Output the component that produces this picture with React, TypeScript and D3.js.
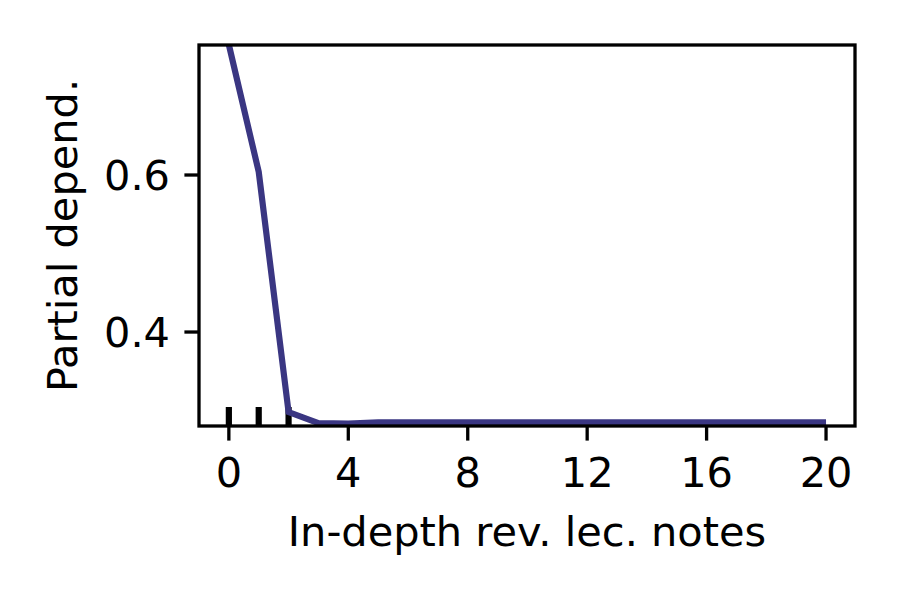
import React from "react";
import * as d3 from "d3";

// partial dependence values
const xValues = [0, 1, 2, 3, 4, 5, 6, 7, 8, 9, 10, 11, 12, 13, 14, 15, 16, 17, 18, 19, 20];
const pdValues = [
  0.766, 0.604, 0.298, 0.284, 0.2835, 0.285, 0.285, 0.285, 0.285, 0.285, 0.285,
  0.285, 0.285, 0.285, 0.285, 0.285, 0.285, 0.285, 0.285, 0.285, 0.285,
];
// deciles of the feature (rug marks)
const deciles = [0, 1, 2];
const xTicks = [0, 4, 8, 12, 16, 20];
const yTicks = [0.4, 0.6];

const width = 900,
  height = 600;
const margin = { top: 45, right: 45, bottom: 174, left: 199 };
const lineColor = "#3a3682";
const fontSize = 41.5;
const font = "DejaVu Sans, sans-serif";
const tickLen = 14.6;
const axisW = 3.3;

export default function App() {
  const innerW = width - margin.left - margin.right;
  const innerH = height - margin.top - margin.bottom;

  const xScale = d3.scaleLinear().domain([-1.0, 20.97]).range([0, innerW]);
  const yScale = d3.scaleLinear().domain([0.2803, 0.7656]).range([innerH, 0]);

  const line = d3
    .line<number>()
    .x((_, i) => xScale(xValues[i]))
    .y((d) => yScale(d));

  return (
    <svg
      width={width}
      height={height}
      style={{ position: "absolute", left: 0, top: 0, background: "#fff" }}
      fontFamily={font}
    >
      <defs>
        <clipPath id="plotClip">
          <rect x={0} y={0} width={innerW} height={innerH} />
        </clipPath>
      </defs>
      <g transform={`translate(${margin.left},${margin.top})`}>
        {/* rug of deciles */}
        {deciles.map((d) => (
          <line
            key={"r" + d}
            x1={xScale(d)}
            x2={xScale(d)}
            y1={innerH}
            y2={innerH - 19}
            stroke="#000"
            strokeWidth={6.2}
          />
        ))}
        <g clipPath="url(#plotClip)">
          <path d={line(pdValues) || ""} fill="none" stroke={lineColor} strokeWidth={6.2} />
        </g>

        {/* frame */}
        <rect
          x={0}
          y={0}
          width={innerW}
          height={innerH}
          fill="none"
          stroke="#000"
          strokeWidth={axisW}
        />

        {/* x ticks */}
        {xTicks.map((t) => (
          <g key={"x" + t} transform={`translate(${xScale(t)},${innerH})`}>
            <line y1={0} y2={tickLen} stroke="#000" strokeWidth={axisW} />
            <text y={487 - margin.top - innerH} textAnchor="middle" fontSize={fontSize} fill="#000">
              {t}
            </text>
          </g>
        ))}

        {/* y ticks */}
        {yTicks.map((t) => (
          <g key={"y" + t} transform={`translate(0,${yScale(t)})`}>
            <line x1={0} x2={-tickLen} stroke="#000" strokeWidth={axisW} />
            <text x={-29} y={15} textAnchor="end" fontSize={fontSize} fill="#000">
              {t.toFixed(1)}
            </text>
          </g>
        ))}

        <text
          x={innerW / 2}
          y={546 - margin.top}
          textAnchor="middle"
          fontSize={fontSize}
          fill="#000"
        >
          In-depth rev. lec. notes
        </text>
        <text
          transform={`translate(${77 - margin.left},${innerH / 2}) rotate(-90)`}
          textAnchor="middle"
          fontSize={fontSize}
          fill="#000"
        >
          Partial depend.
        </text>
      </g>
    </svg>
  );
}
